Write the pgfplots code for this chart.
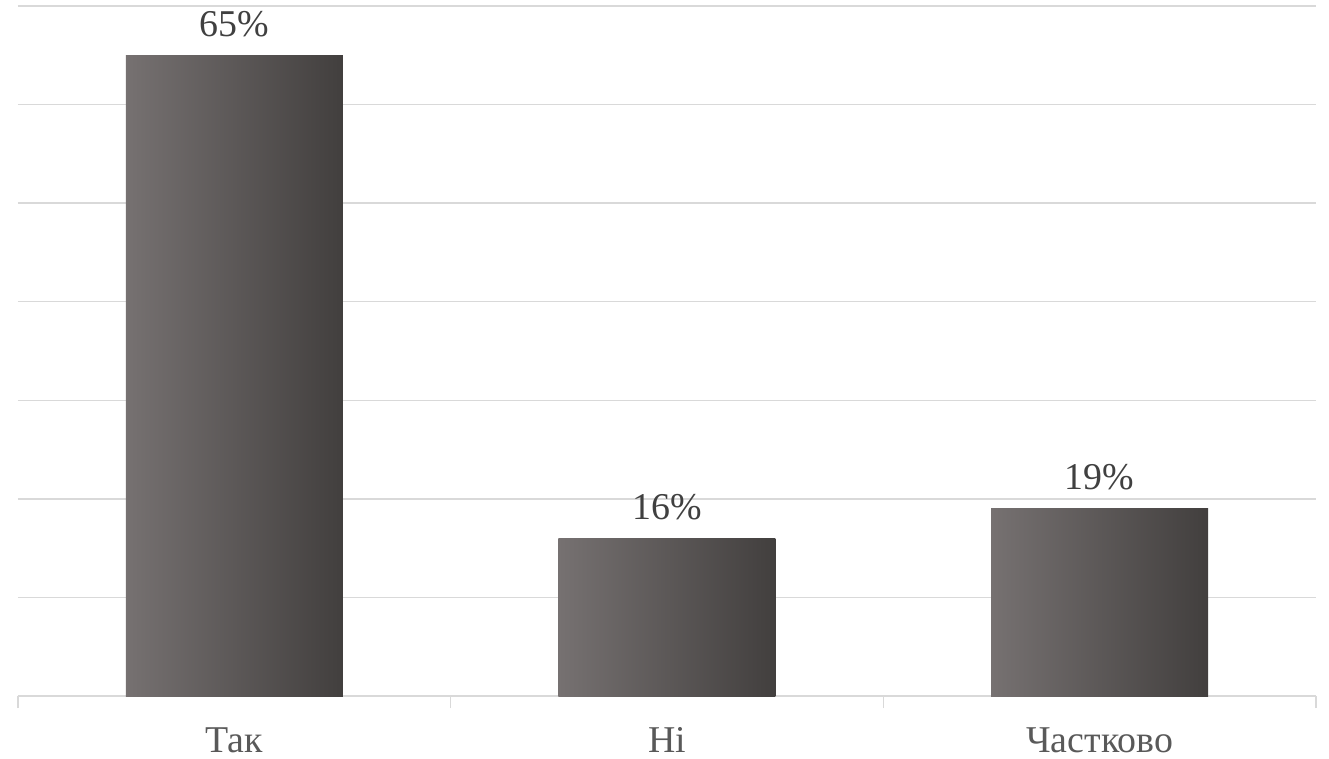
\documentclass[border=0pt]{standalone}
\usepackage{fontspec}
\setmainfont{Liberation Serif}
\usepackage{pgfplots}
\pgfplotsset{compat=1.18}
\definecolor{gridgray}{HTML}{D9D9D9}
\definecolor{barL}{HTML}{767171}
\definecolor{barR}{HTML}{423F3E}
\definecolor{lblc}{HTML}{404040}
\definecolor{tickc}{HTML}{595959}
\begin{document}
\begin{tikzpicture}
\begin{axis}[
  scale only axis,
  width=1298bp, height=690bp,
  xmin=-0.5, xmax=2.5,
  ymin=0, ymax=70,
  /pgf/number format/assume math mode=true,
  font=\fontsize{38}{45}\selectfont,
  ytick={0,10,...,70},
  yticklabels={},
  ymajorgrids,
  major grid style={draw=gridgray, line width=1.3bp},
  ytick style={draw=none},
  axis x line=bottom,
  axis y line*=left,
  x axis line style={draw=gridgray, line width=1.3bp, -},
  y axis line style={draw=none, -},
  xtick={-0.5,0.5,1.5,2.5},
  xticklabels={},
  xtick style={draw=gridgray, line width=1.3bp},
  major tick length=12bp,
  tick align=outside,
  extra x ticks={0,1,2},
  extra x tick labels={Так,Ні,Частково},
  extra x tick style={major tick length=0pt, xtick style={draw=none}, xmajorgrids=false},
  xticklabel style={text=tickc, yshift=-28bp},
  ybar, bar width=217bp, bar shift=0pt,
  every node near coord/.append style={text=lblc, yshift=15bp, font=\fontsize{38}{45}\selectfont},
  nodes near coords={\pgfmathprintnumber{\pgfplotspointmeta}\%},
  clip=false,
]
\addplot[draw=none, left color=barL, right color=barR] coordinates {(0,65)};
\addplot[draw=none, left color=barL, right color=barR] coordinates {(1,16)};
\addplot[draw=none, left color=barL, right color=barR] coordinates {(2,19)};
\end{axis}
\pgfresetboundingbox
\path[use as bounding box] (-18bp,-63bp) rectangle (1311bp,696bp);
\end{tikzpicture}
\end{document}
